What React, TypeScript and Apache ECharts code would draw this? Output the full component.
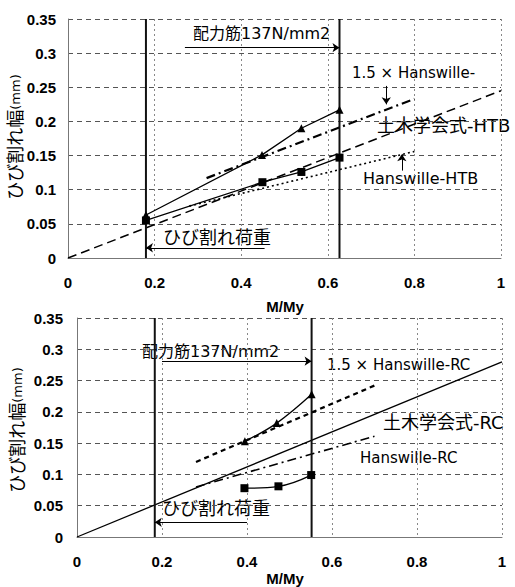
import React, { useEffect, useRef } from "react";
import * as echarts from "echarts";

// ---- Top chart (HTB) ----
const topTriangle: number[][] = [[0.18, 0.063], [0.448, 0.151], [0.539, 0.19], [0.627, 0.217]];
const topSquare: number[][] = [[0.18, 0.055], [0.449, 0.111], [0.539, 0.126], [0.627, 0.147]];
const topDoboku: number[][] = [[0, 0], [1, 0.245]];
const topHans: number[][] = [[0.28, 0.076], [0.8, 0.156]];
const topHans15: number[][] = [[0.32, 0.117], [0.8, 0.233]];
const topCrackX = 0.18;
const topBarX = 0.627;

// ---- Bottom chart (RC) ----
const botTriangle: number[][] = [[0.395, 0.153], [0.47, 0.182], [0.552, 0.228]];
const botSquare: number[][] = [[0.394, 0.078], [0.474, 0.081], [0.551, 0.099]];
const botDoboku: number[][] = [[0, 0], [1, 0.28]];
const botHans15: number[][] = [[0.28, 0.12], [0.7, 0.242]];
const botHans: number[][] = [[0.28, 0.08], [0.7, 0.161]];
const botCrackX = 0.183;
const botBarX = 0.552;

const yMax = 0.35;
const yStep = 0.05;
const xStep = 0.2;

const LATIN = "'Liberation Sans', Arial, 'Noto Sans CJK JP', sans-serif";
const CJK = "'DejaVu Sans', 'Noto Sans CJK JP', sans-serif";

function txt(text: string, x: number, y: number, fontSize: number, align = "left", weight = "normal", family = CJK) {
  return {
    type: "text",
    x,
    y,
    silent: true,
    style: {
      text,
      fill: "#000",
      fontSize,
      fontFamily: family,
      fontWeight: weight,
      align,
      textAlign: align,
      verticalAlign: "middle",
      textVerticalAlign: "middle",
    },
  };
}

function yName(x: number, y: number) {
  return {
    type: "text",
    x,
    y,
    rotation: Math.PI / 2,
    silent: true,
    style: {
      text: "{a|ひび割れ幅}{b|(mm)}",
      fill: "#000",
      align: "center",
      textAlign: "center",
      verticalAlign: "middle",
      textVerticalAlign: "middle",
      rich: {
        a: { fontSize: 18, fontFamily: CJK, fill: "#000" },
        b: { fontSize: 13, fontFamily: CJK, fill: "#000" },
      },
    },
  };
}

function arrow(x1: number, y1: number, x2: number, y2: number) {
  return [{ coord: [x1, y1] }, { coord: [x2, y2] }];
}

export default function App() {
  const ref = useRef<HTMLDivElement>(null);
  useEffect(() => {
    if (!ref.current) return;
    const chart = echarts.init(ref.current, undefined, { renderer: "svg" });

    const xAxisBase = (gridIndex: number) => ({
      type: "value",
      gridIndex,
      min: 0,
      max: 1,
      interval: xStep,
      axisLine: { show: true, lineStyle: { color: "#777", width: 1 } },
      axisTick: { show: false },
      axisLabel: { color: "#000", fontSize: 15, fontWeight: "bold", fontFamily: LATIN, margin: 17 },
      splitLine: { show: true, lineStyle: { color: "#888", type: [2, 3], width: 1 } },
    });
    const yAxisBase = (gridIndex: number, margin: number) => ({
      type: "value",
      gridIndex,
      min: 0,
      max: yMax,
      interval: yStep,
      axisLine: { show: true, lineStyle: { color: "#777", width: 1 } },
      axisTick: { show: false },
      axisLabel: { color: "#000", fontSize: 15, fontWeight: "bold", fontFamily: LATIN, margin },
      splitLine: { show: true, lineStyle: { color: "#555", type: [5, 4], width: 1 } },
    });

    const lineS = (idx: number, data: number[][], style: any, extra: any = {}) => ({
      type: "line",
      xAxisIndex: idx,
      yAxisIndex: idx,
      data,
      symbol: "none",
      lineStyle: { color: "#000", ...style },
      silent: true,
      ...extra,
    });

    const markerS = (idx: number, data: number[][], symbol: string, smooth: number | boolean) => ({
      type: "line",
      xAxisIndex: idx,
      yAxisIndex: idx,
      data,
      symbol,
      symbolSize: 8,
      smooth,
      itemStyle: { color: "#000" },
      lineStyle: { color: "#000", width: 1.3 },
      silent: true,
    });

    const vline = (idx: number, x: number, marks: any[]) => ({
      type: "line",
      xAxisIndex: idx,
      yAxisIndex: idx,
      data: [[x, 0], [x, yMax]],
      symbol: "none",
      lineStyle: { color: "#111", width: 2 },
      silent: true,
      markLine: marks.length
        ? {
            silent: true,
            symbol: ["none", "arrow"],
            symbolSize: 7,
            label: { show: false },
            lineStyle: { color: "#000", width: 1, type: "solid" },
            data: marks,
          }
        : undefined,
    });

    chart.setOption({
      animation: false,
      backgroundColor: "#fff",
      grid: [
        { left: 68, top: 19, width: 433, height: 239 },
        { left: 77, top: 318, width: 425, height: 219 },
      ],
      xAxis: [xAxisBase(0), xAxisBase(1)],
      yAxis: [yAxisBase(0, 12), yAxisBase(1, 14)],
      series: [
        // top
        lineS(0, topDoboku, { type: [9, 5], width: 1.5 }),
        lineS(0, topHans, { type: [2, 3], width: 1.6 }),
        lineS(0, topHans15, { type: [9, 4, 2, 4], width: 2.2 }),
        markerS(0, topSquare, "rect", false),
        markerS(0, topTriangle, "triangle", false),
        vline(0, topCrackX, [
          arrow(0.454, 0.015, topCrackX, 0.015),
          arrow(0.735, 0.252, 0.735, 0.225),
          arrow(0.771, 0.128, 0.771, 0.152),
        ]),
        vline(0, topBarX, [arrow(0.27, 0.308, topBarX, 0.308)]),
        // bottom
        lineS(1, botDoboku, { type: "solid", width: 1.3 }),
        lineS(1, botHans15, { type: [5, 4], width: 2.2 }),
        lineS(1, botHans, { type: [9, 4, 2, 4], width: 1.6 }),
        markerS(1, botSquare, "rect", 0.4),
        markerS(1, botTriangle, "triangle", 0.4),
        vline(1, botCrackX, [arrow(0.4, 0.0235, botCrackX, 0.0235)]),
        vline(1, botBarX, [arrow(0.2, 0.281, botBarX, 0.281)]),
      ],
      graphic: [
        // top annotations
        txt("配力筋137N/mm2", 193, 33, 16),
        txt("ひび割れ荷重", 163, 237, 18),
        txt("1.5 × Hanswille-", 352, 73, 15),
        txt("土木学会式-HTB", 377, 125, 18),
        txt("Hanswille-HTB", 363, 178, 16),
        yName(15, 137),
        txt("M/My", 285, 306, 15, "center", "bold", LATIN),
        // bottom annotations
        txt("配力筋137N/mm2", 142, 351, 16),
        txt("ひび割れ荷重", 162, 508, 18),
        txt("1.5 × Hanswille-RC", 327, 365, 15),
        txt("土木学会式-RC", 383, 422, 18),
        txt("Hanswille-RC", 360, 458, 15),
        yName(17, 430),
        txt("M/My", 285, 578, 15, "center", "bold", LATIN),
      ],
    });
    return () => chart.dispose();
  }, []);
  return (
    <div
      ref={ref}
      style={{ position: "absolute", left: 0, top: 0, width: 515, height: 587, background: "#fff" }}
    />
  );
}
